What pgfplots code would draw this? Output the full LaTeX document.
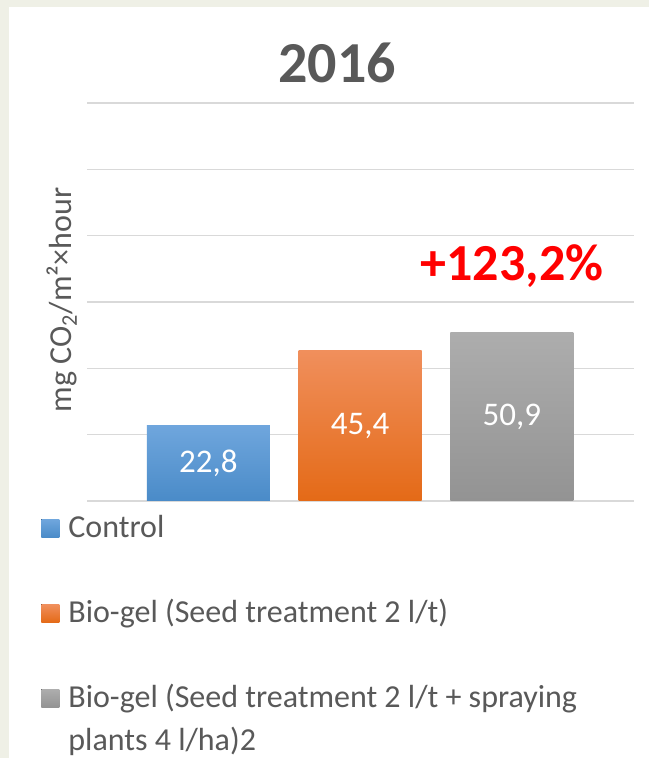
\documentclass[border=0pt]{standalone}
\usepackage{fontspec}
\setmainfont{Carlito}
\usepackage{pgfplots}
\pgfplotsset{compat=1.18}

\definecolor{txtgray}{HTML}{595959}
\definecolor{gridgray}{HTML}{D9D9D9}
\definecolor{bgbeige}{HTML}{EFF0E6}
\definecolor{blueTop}{HTML}{6FA6DD}
\definecolor{blueBot}{HTML}{4A8BC8}
\definecolor{orangeTop}{HTML}{F08F5C}
\definecolor{orangeBot}{HTML}{E46A17}
\definecolor{grayTop}{HTML}{ADADAD}
\definecolor{grayBot}{HTML}{939393}

\begin{document}
\begin{tikzpicture}
% slide background and white chart panel
\fill[bgbeige] (0,0) rectangle (324.5pt,379pt);
\fill[white] (4.5pt,0) rectangle (324.5pt,375.5pt);

\begin{axis}[
    at={(43.5pt,128.5pt)}, anchor=south west,
    width=273.5pt, height=199pt, scale only axis,
    xmin=-0.80, xmax=2.805,
    ymin=0, ymax=120,
    ytick={0,20,...,120}, yticklabels={},
    xtick=\empty,
    major tick length=0pt,
    ymajorgrids,
    grid style={gridgray, line width=0.75pt},
    axis line style={draw=none},
    ybar, bar width=0.81,
    nodes near coords,
    visualization depends on=rawy \as \rawy,
    every node near coord/.append style={
        font=\fontsize{16.5}{20}\selectfont, text=white, anchor=center,
        shift={(axis direction cs:0,-\rawy/2)}},
    /pgf/number format/.cd, use comma, fixed, fixed zerofill, precision=1,
        assume math mode=true,
    /pgfplots/.cd,
    legend image code/.code={\fill[#1] (0pt,0pt) rectangle (9pt,9pt);},
    legend style={
        at={(-0.0841,-0.0201)}, anchor=north west,
        draw=none, fill=none, inner sep=0pt,
        font=\fontsize{16}{20}\selectfont, text=txtgray,
        row sep=27pt, column sep=4.5pt,
        cells={anchor=base west},
        nodes={inner sep=0pt, anchor=base west}},
]
\addplot[bar shift=0pt, draw=none, top color=blueTop, bottom color=blueBot]
    coordinates {(0,22.8)};
\addlegendentry{Control\strut}
\addplot[bar shift=0pt, draw=none, top color=orangeTop, bottom color=orangeBot]
    coordinates {(1,45.4)};
\addlegendentry{Bio-gel (Seed treatment 2 l/t)\strut}
\addplot[bar shift=0pt, draw=none, top color=grayTop, bottom color=grayBot]
    coordinates {(2,50.9)};
\addlegendentry{\begin{tabular}[t]{@{}l@{}}Bio-gel (Seed treatment 2 l/t + spraying\\[1.5pt]plants 4 l/ha)2\end{tabular}}
\end{axis}

\node[font=\bfseries\fontsize{29}{34}\selectfont, text=txtgray] at (168.5pt,347.5pt) {2016};
\node[rotate=90, font=\fontsize{16}{20}\selectfont, text=txtgray] at (31pt,229pt) {mg CO\textsubscript{2}/m²×hour};
\node[font=\bfseries\fontsize{26}{30}\selectfont, text=red] at (256pt,246pt) {+123,2\%};

\pgfresetboundingbox
\useasboundingbox (0,0) rectangle (324.5pt,379pt);
\end{tikzpicture}
\end{document}
